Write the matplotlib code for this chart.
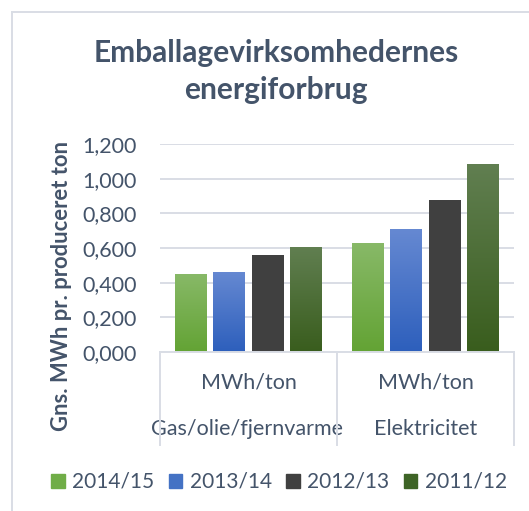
import matplotlib
matplotlib.use("Agg")
import matplotlib.pyplot as plt
import numpy as np
from matplotlib.colors import LinearSegmentedColormap
from matplotlib.lines import Line2D

plt.rcParams['font.family'] = ['Lato', 'DejaVu Sans']

groups = ["Gas/olie/fjernvarme", "Elektricitet"]
unit_labels = ["MWh/ton", "MWh/ton"]
series = ["2014/15", "2013/14", "2012/13", "2011/12"]
values = {
    "2014/15": [0.450, 0.629],
    "2013/14": [0.462, 0.710],
    "2012/13": [0.560, 0.878],
    "2011/12": [0.607, 1.085],
}
yticks = [0.0, 0.2, 0.4, 0.6, 0.8, 1.0, 1.2]
ytick_labels = ["0,000", "0,200", "0,400", "0,600", "0,800", "1,000", "1,200"]

# (top colour, bottom colour) for the gradient fills
grad = {
    "2014/15": ("#88b968", "#63a334"),
    "2013/14": ("#6689d2", "#2d5fbc"),
    "2012/13": ("#414141", "#404040"),
    "2011/12": ("#617f51", "#395d1d"),
}
legend_col = {
    "2014/15": "#70ad47",
    "2013/14": "#4472c4",
    "2012/13": "#404040",
    "2011/12": "#3e6426",
}
TXT = "#44546a"
LINE = "#d9dde5"

W, H = 529, 511
fig = plt.figure(figsize=(W / 100, H / 100), dpi=100)
fig.patch.set_facecolor("white")

def fx(px):
    return px / W

def fy(py):
    return 1 - py / H

ax = fig.add_axes([fx(160), fy(352), fx(514) - fx(160), fy(144) - fy(352)])
ax.set_facecolor("none")

x = np.arange(len(groups))
bw = 0.18
step = 0.2166
for i, s in enumerate(series):
    off = (i - 1.5) * step
    bars = ax.bar(x + off, values[s], width=bw, color="none", edgecolor="none", zorder=3)
    top, bot = grad[s]
    cmap = LinearSegmentedColormap.from_list("g" + s, [bot, top])
    for b in bars:
        x0, y0 = b.get_x(), b.get_y()
        w, h = b.get_width(), b.get_height()
        g = np.linspace(0, 1, 256).reshape(-1, 1)
        im = ax.imshow(g, cmap=cmap, origin="lower", aspect="auto",
                       extent=[x0, x0 + w, y0, y0 + h], zorder=3)
        im.set_clip_path(b)

ax.set_xlim(-0.5, 1.5)
ax.set_ylim(0, 1.2)
ax.set_yticks(yticks)
ax.set_yticklabels(ytick_labels)
ax.set_xticks([])
ax.tick_params(axis="y", length=0, pad=16.5, labelsize=15.5, labelcolor=TXT)
ax.grid(axis="y", color=LINE, linewidth=1.4, zorder=0)
for sp in ["top", "right", "left"]:
    ax.spines[sp].set_visible(False)
ax.spines["bottom"].set_color(LINE)
ax.spines["bottom"].set_linewidth(1.4)
ax.spines["bottom"].set_zorder(4)

# multi-level category axis boxes
for px in [160, 337, 514]:
    fig.add_artist(Line2D([fx(px), fx(px)], [fy(352), fy(445)], color=LINE, lw=1.4))

for i, (g, u) in enumerate(zip(groups, unit_labels)):
    ax.text(i, -0.178, u, ha="center", va="center", fontsize=15.5, color=TXT,
            clip_on=False)
    ax.text(i - (0.01 if i == 0 else 0), -0.445, g, ha="center", va="center",
            fontsize=15.5, color=TXT, clip_on=False)

# chart border (top and left)
fig.add_artist(Line2D([fx(12), fx(12)], [fy(12), 0], color=LINE, lw=1.4))
fig.add_artist(Line2D([fx(12), 1], [fy(12), fy(12)], color=LINE, lw=1.4))

# title
fig.text(fx(276), fy(53), "Emballagevirksomhedernes", ha="center", va="center",
         fontsize=21.5, fontweight="bold", color=TXT)
fig.text(fx(276), fy(90), "energiforbrug", ha="center", va="center",
         fontsize=21.5, fontweight="bold", color=TXT)

# y label
fig.text(fx(62), fy(286), "Gns. MWh pr. produceret ton", rotation=90, ha="center",
         va="center", fontsize=15.8, fontweight="bold", color=TXT)

# legend
handles = [plt.Rectangle((0, 0), 1, 1, color=legend_col[s]) for s in series]
leg = fig.legend(handles, series, loc="center", bbox_to_anchor=(fx(279), fy(482)),
                 ncol=4, frameon=False, fontsize=15, handlelength=0.65, handleheight=0.65,
                 handletextpad=0.35, columnspacing=0.7, labelcolor=TXT)

fig.savefig("out.png", dpi=100, facecolor="white")
